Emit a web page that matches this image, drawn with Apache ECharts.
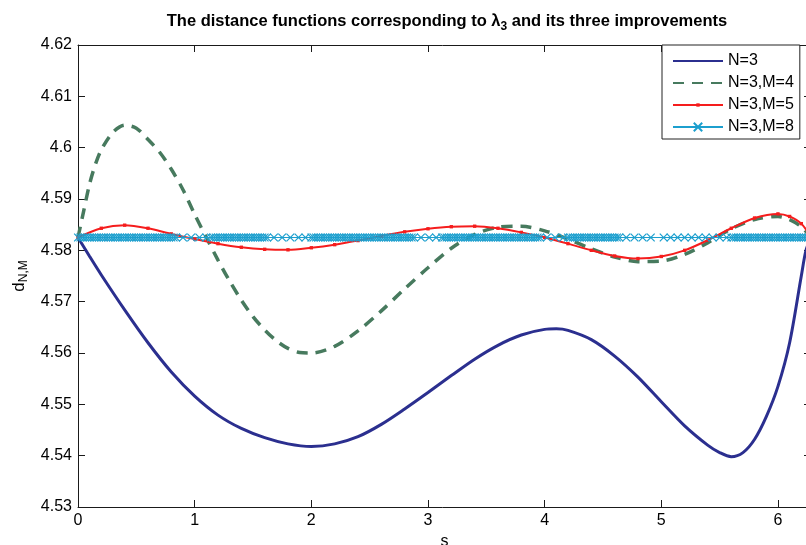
<!DOCTYPE html>
<html lang="en">
<head>
    <meta charset="UTF-8">
    <title>distance functions</title>
    <script src="https://cdn.jsdelivr.net/npm/echarts@6/dist/echarts.min.js"></script>
    <style>
        html, body { margin: 0; padding: 0; background: #fff; }
        #main { width: 806px; height: 545px; }
    </style>
</head>
<body>
<div id="main"></div>
<script>
    // N=3
    var sN3 = [0, 0.1, 0.2, 0.4, 0.6, 0.8, 1.0, 1.2, 1.4, 1.6, 1.8, 2.0, 2.2, 2.4, 2.6, 2.8, 3.0,
        3.2, 3.4, 3.6, 3.8, 4.0, 4.1, 4.2, 4.4, 4.6, 4.8, 5.0, 5.2, 5.4, 5.5, 5.6, 5.7, 5.8, 5.9,
        6.0, 6.1, 6.2, 6.24, 6.2832];
    var dN3 = [4.5825, 4.5788, 4.5752, 4.5684, 4.5620, 4.5563, 4.5516, 4.5479, 4.5453, 4.5435,
        4.5423, 4.5418, 4.5423, 4.5437, 4.5461, 4.5491, 4.5523, 4.5556, 4.5588, 4.5615, 4.5635,
        4.5646, 4.5647, 4.5644, 4.5626, 4.5594, 4.5553, 4.5505, 4.5458, 4.5420, 4.5406, 4.5398,
        4.5406, 4.5432, 4.5476, 4.5535, 4.5620, 4.5750, 4.5800, 4.5825];

    // N=3,M=4
    var sM4 = [0, 0.05, 0.1, 0.15, 0.2, 0.3, 0.4, 0.5, 0.6, 0.7, 0.8, 0.9, 1.0, 1.1, 1.2, 1.3, 1.4,
        1.5, 1.6, 1.7, 1.8, 1.9, 2.0, 2.2, 2.4, 2.6, 2.8, 3.0, 3.2, 3.4, 3.6, 3.8, 4.0, 4.2, 4.4,
        4.6, 4.8, 5.0, 5.2, 5.4, 5.6, 5.8, 6.0, 6.1, 6.2, 6.2832];
    var dM4 = [4.5825, 4.5878, 4.5930, 4.5968, 4.5996, 4.6030, 4.6044, 4.6038, 4.6016, 4.5991,
        4.5958, 4.5918, 4.5870, 4.5825, 4.5781, 4.5740, 4.5703, 4.5671, 4.5645, 4.5624, 4.5609,
        4.5601, 4.5600, 4.5613, 4.5643, 4.5682, 4.5725, 4.5766, 4.5804, 4.5831, 4.5845, 4.5847,
        4.5838, 4.5822, 4.5803, 4.5787, 4.5778, 4.5779, 4.5792, 4.5815, 4.5842, 4.5860, 4.5866,
        4.5860, 4.5846, 4.5825];

    // N=3,M=5
    var sM5 = [0, 0.2, 0.4, 0.6, 0.8, 1.0, 1.2, 1.4, 1.6, 1.8, 2.0, 2.2, 2.4, 2.6, 2.8, 3.0,
        3.2, 3.4, 3.6, 3.8, 4.0, 4.2, 4.4, 4.6, 4.8, 5.0, 5.2, 5.4, 5.6, 5.8, 6.0, 6.1, 6.2, 6.2832];
    var dM5 = [4.5825, 4.5843, 4.5849, 4.5843, 4.5832, 4.5822, 4.5813, 4.5806, 4.5802, 4.5801,
        4.5805, 4.5811, 4.5819, 4.5828, 4.5836, 4.5842, 4.5846, 4.5847, 4.5843, 4.5835,
        4.5825, 4.5813, 4.5800, 4.5789, 4.5784, 4.5788, 4.5800, 4.5820, 4.5843, 4.5863,
        4.5871, 4.5866, 4.5852, 4.5825];

    // N=3,M=8 : flat level, marker positions
    var levelM8 = 4.5825;
    var sM8 = [0, 0.02, 0.04, 0.06, 0.08, 0.1, 0.12, 0.14, 0.16, 0.18, 0.2, 0.22, 0.24, 0.26, 0.28,
        0.3, 0.32, 0.34, 0.36, 0.38, 0.4, 0.42, 0.44, 0.46, 0.48, 0.5, 0.52, 0.54, 0.56, 0.58,
        0.6, 0.62, 0.64, 0.66, 0.68, 0.7, 0.72, 0.74, 0.76, 0.78, 0.8, 0.82, 0.84,
        0.9, 0.97, 1.04, 1.1,
        1.14, 1.16, 1.18, 1.2, 1.22, 1.24, 1.26, 1.28, 1.3, 1.32, 1.34, 1.36, 1.38, 1.4, 1.42,
        1.44, 1.46, 1.48, 1.5, 1.52, 1.54, 1.56, 1.58, 1.6, 1.62,
        1.68, 1.75, 1.82, 1.89, 1.95,
        2, 2.02, 2.04, 2.06, 2.08, 2.1, 2.12, 2.14, 2.16, 2.18, 2.2, 2.22, 2.24, 2.26, 2.28,
        2.3, 2.32, 2.34, 2.36, 2.38, 2.4, 2.42, 2.44, 2.46, 2.48, 2.5, 2.52, 2.54, 2.56, 2.58,
        2.6, 2.62, 2.64, 2.66, 2.68, 2.7, 2.72, 2.74, 2.76, 2.78, 2.8, 2.82, 2.84, 2.86, 2.88,
        2.94, 3.01, 3.07,
        3.12, 3.14, 3.16, 3.18, 3.2, 3.22, 3.24, 3.26, 3.28, 3.3, 3.32, 3.34, 3.36, 3.38, 3.4,
        3.42, 3.44, 3.46, 3.48, 3.5, 3.52, 3.54, 3.56, 3.58, 3.6, 3.62, 3.64, 3.66, 3.68, 3.7,
        3.72, 3.74, 3.76, 3.78, 3.8, 3.82, 3.84, 3.86, 3.88, 3.9, 3.92, 3.94, 3.96,
        4.02, 4.09, 4.16,
        4.2, 4.22, 4.24, 4.26, 4.28, 4.3, 4.32, 4.34, 4.36, 4.38, 4.4, 4.42, 4.44, 4.46, 4.48,
        4.5, 4.52, 4.54, 4.56, 4.58, 4.6, 4.62, 4.64,
        4.7, 4.77, 4.84, 4.91, 5.02, 5.08, 5.14, 5.2, 5.26, 5.32, 5.38, 5.44, 5.5, 5.56,
        5.6, 5.62, 5.64, 5.66, 5.68, 5.7, 5.72, 5.74, 5.76, 5.78, 5.8, 5.82, 5.84, 5.86, 5.88,
        5.9, 5.92, 5.94, 5.96, 5.98, 6, 6.02, 6.04, 6.06, 6.08, 6.1, 6.12, 6.14, 6.16, 6.18,
        6.2, 6.22, 6.24, 6.26, 6.2832];

    var seriesNames = ['N=3', 'N=3,M=4', 'N=3,M=5', 'N=3,M=8'];

    function pairs(xs, ys) {
        var out = [];
        for (var i = 0; i < xs.length; i++) out.push([xs[i], ys[i]]);
        return out;
    }

    var font = 'Liberation Sans, Arial, sans-serif';
    var axisCol = '#1a1a1a';
    // symbols drawn inside a 10x10 box so legend and plot keep the small size
    var noMark = 'path://M0,0M10,10';
    var dotMark = 'path://M0,0M10,10M3.6,3.6L6.4,3.6L6.4,6.4L3.6,6.4Z';
    var crossMark = 'path://M0,0M10,10M1.5,1.5L8.5,8.5M8.5,1.5L1.5,8.5';

    var myChart = echarts.init(document.getElementById('main'), null, {renderer: 'canvas'});

    var option = {
        animation: false,
        backgroundColor: '#fff',
        title: {
            text: '{a|The distance functions corresponding to λ}{s|3}{a| and its three improvements}',
            left: 442,
            top: 4,
            textAlign: 'center',
            textStyle: {
                rich: {
                    a: {fontFamily: font, fontWeight: 'bold', fontSize: 16.5, color: '#000', lineHeight: 24, verticalAlign: 'middle'},
                    s: {fontFamily: font, fontWeight: 'bold', fontSize: 12, color: '#000', lineHeight: 24, verticalAlign: 'bottom', padding: [9, 0, 0, 0]}
                }
            }
        },
        legend: {
            orient: 'vertical',
            left: 662,
            top: 45,
            data: seriesNames,
            backgroundColor: '#fff',
            borderColor: '#222',
            borderWidth: 1,
            borderRadius: 0,
            padding: [8, 6, 4, 10],
            itemGap: 6,
            itemWidth: 50,
            itemHeight: 15,
            z: 10,
            textStyle: {fontFamily: font, fontSize: 16, color: '#000'}
        },
        grid: {left: 78, right: -5, top: 45, bottom: 38, outerBoundsMode: 'none', containLabel: false},
        xAxis: [{
            type: 'value',
            min: 0,
            max: 6.2832,
            interval: 1,
            name: 's',
            nameLocation: 'middle',
            nameGap: 27,
            nameTextStyle: {fontFamily: font, fontSize: 16, color: '#000'},
            axisLine: {show: true, onZero: false, lineStyle: {color: axisCol, width: 1}},
            axisTick: {show: true, inside: true, length: 7, lineStyle: {color: axisCol}},
            axisLabel: {
                fontFamily: font, fontSize: 16, color: '#000', margin: 6,
                showMaxLabel: false,
                formatter: function (v) { return Math.abs(v - Math.round(v)) < 1e-6 ? String(Math.round(v)) : ''; }
            },
            splitLine: {show: false}
        }, {
            type: 'value',
            position: 'top',
            min: 0,
            max: 6.2832,
            interval: 1,
            axisLine: {show: true, onZero: false, lineStyle: {color: axisCol, width: 1}},
            axisTick: {show: true, inside: true, length: 7, lineStyle: {color: axisCol}},
            axisLabel: {show: false},
            splitLine: {show: false}
        }],
        yAxis: [{
            type: 'value',
            min: 4.53,
            max: 4.62,
            interval: 0.01,
            name: '{d|d}{s|N,M}',
            nameLocation: 'middle',
            nameRotate: 90,
            nameGap: 46,
            nameTextStyle: {
                rich: {
                    d: {fontFamily: font, fontSize: 17, color: '#000', lineHeight: 22, verticalAlign: 'middle'},
                    s: {fontFamily: font, fontSize: 12, color: '#000', lineHeight: 22, verticalAlign: 'bottom', padding: [9, 0, 0, 0]}
                }
            },
            axisLine: {show: true, onZero: false, lineStyle: {color: axisCol, width: 1}},
            axisTick: {show: true, inside: true, length: 7, lineStyle: {color: axisCol}},
            axisLabel: {
                fontFamily: font, fontSize: 16, color: '#000', margin: 6,
                formatter: function (v) { return String(+v.toFixed(2)); }
            },
            splitLine: {show: false}
        }, {
            type: 'value',
            position: 'right',
            min: 4.53,
            max: 4.62,
            interval: 0.01,
            axisLine: {show: true, onZero: false, lineStyle: {color: axisCol, width: 1}},
            axisTick: {show: true, inside: true, length: 7, lineStyle: {color: axisCol}},
            axisLabel: {show: false},
            splitLine: {show: false}
        }],
        series: [{
            name: seriesNames[0],
            type: 'line',
            smooth: 0.3,
            symbol: noMark,
            showSymbol: false,
            data: pairs(sN3, dN3),
            lineStyle: {color: '#2b2f8f', width: 3},
            itemStyle: {color: '#2b2f8f'}
        }, {
            name: seriesNames[1],
            type: 'line',
            smooth: 0.3,
            symbol: noMark,
            showSymbol: false,
            data: pairs(sM4, dM4),
            lineStyle: {color: '#477a5e', width: 3.5, type: [11, 8]},
            itemStyle: {color: '#477a5e'}
        }, {
            name: seriesNames[2],
            type: 'line',
            smooth: 0.3,
            symbol: dotMark,
            symbolSize: 12,
            showSymbol: true,
            data: pairs(sM5, dM5),
            lineStyle: {color: '#f51d1d', width: 2},
            itemStyle: {color: '#f51d1d'}
        }, {
            name: seriesNames[3],
            type: 'line',
            symbol: crossMark,
            symbolSize: 11,
            showSymbol: true,
            data: sM8.map(function (s) { return [s, levelM8]; }),
            lineStyle: {color: '#1c9fce', width: 1},
            itemStyle: {color: 'rgba(0,0,0,0)', borderColor: '#1c9fce', borderWidth: 1.2}
        }]
    };

    myChart.setOption(option);
</script>
</body>
</html>
